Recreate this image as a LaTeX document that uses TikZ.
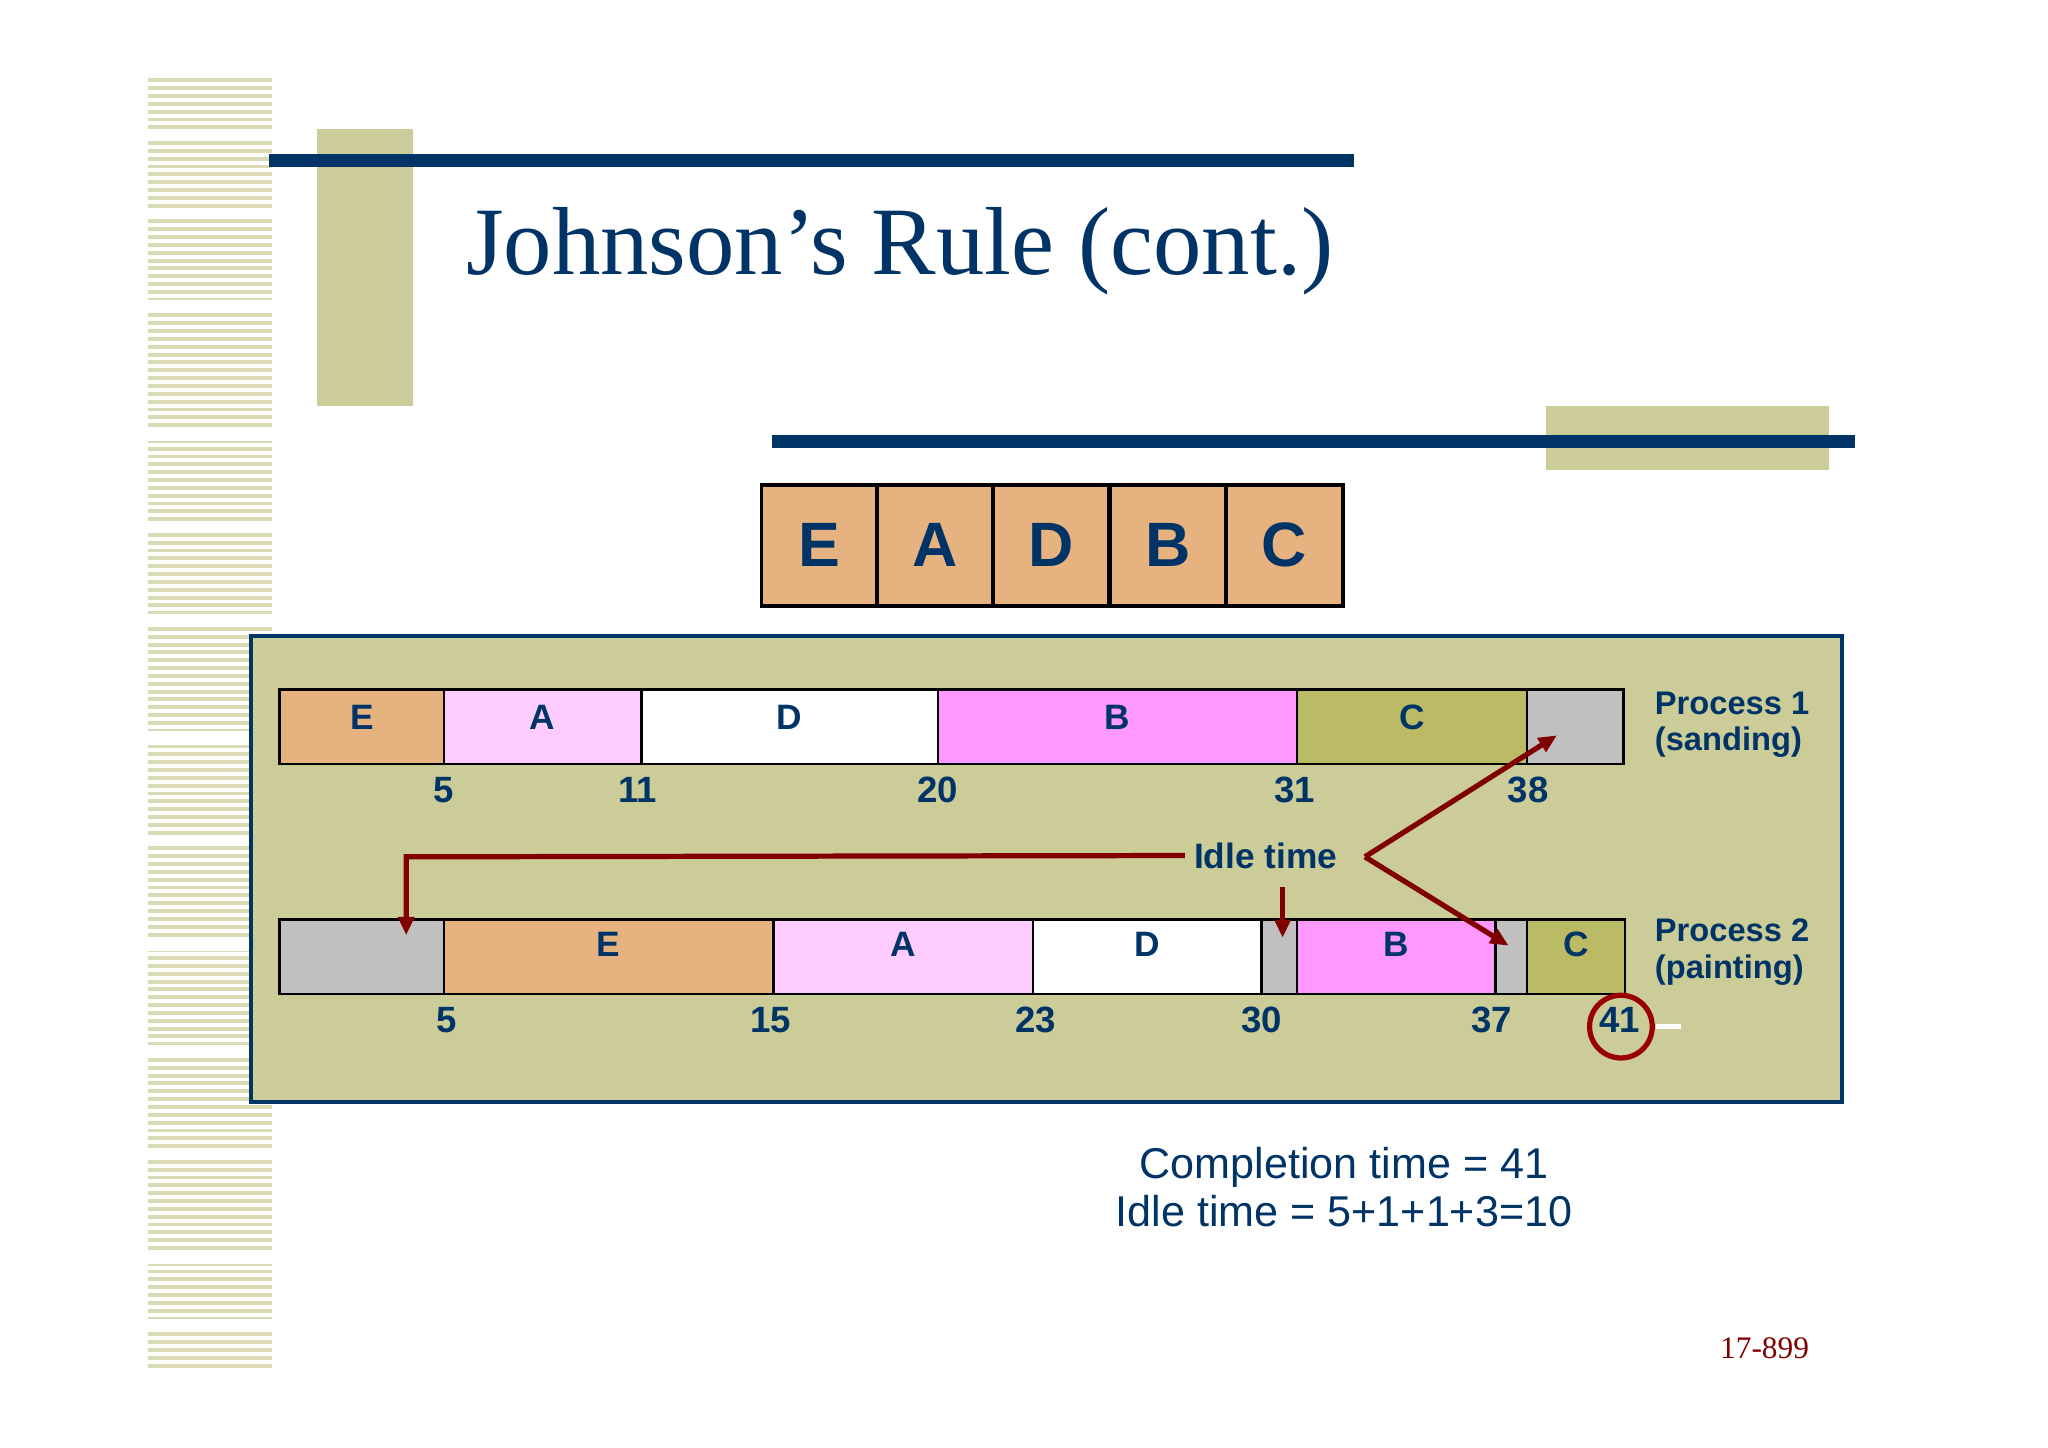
\documentclass[tikz,border=0pt]{standalone}
\usepackage{fontspec}
\setmainfont{Liberation Sans}
\newfontfamily\serifont{Liberation Serif}
\usetikzlibrary{arrows.meta}
\definecolor{navy}{HTML}{003366}
\definecolor{olive}{HTML}{CCCC99}
\definecolor{tan}{HTML}{E6B380}
\definecolor{pinkL}{HTML}{FFCCFF}
\definecolor{pinkD}{HTML}{FF99FF}
\definecolor{oliveD}{HTML}{BBBB66}
\definecolor{greyc}{HTML}{C0C0C0}
\definecolor{dred}{HTML}{800000}
\begin{document}
\begin{tikzpicture}[x=0.5pt,y=-0.5pt,
  seq/.style={draw=black,line width=1.5pt,fill=tan,minimum width=44.5pt,minimum height=46.5pt,inner sep=0,font=\fontsize{24}{24}\bfseries\selectfont,text=navy},
  lab/.style={font=\fontsize{13.5}{14}\bfseries\selectfont,text=navy},
  num/.style={font=\fontsize{14}{14}\bfseries\selectfont,text=navy},
  seg/.style={draw=black,line width=1pt},
  arr/.style={draw=dred,line width=2pt,-{Triangle[length=7pt,width=6pt]}}]
\useasboundingbox (0,0) rectangle (1568,1108);
\fill[white] (0,0) rectangle (1568,1108);
% left stripes
\foreach \y in {60,66,...,1045}{\fill[olive!70] (113,\y) rectangle (208,\y+3);}
\foreach \y in {100,160,230,330,400,470,560,640,720,800,880,960,1010}{\fill[white] (113,\y) rectangle (208,\y+8);}
% decorations
\fill[olive] (243,99) rectangle (316,311);
\fill[navy] (206,118) rectangle (1037,128);
\node[font=\serifont\fontsize{37}{37}\selectfont,text=navy,anchor=west] (title) at (350,192) {Johnson’s Rule (cont.)};
\fill[olive] (1184,311) rectangle (1400,360);
\fill[navy] (591,333) rectangle (1420,343);
% sequence
\foreach \l/\x [count=\i] in {E/627.5,A/716,D/804.5,B/894,C/983.5}{\node[seq] (s\i) at (\x,417.5) {\l};}
% panel
\draw[navy,line width=1.5pt,fill=olive] (192,487) rectangle (1410,844);
% process 1
\foreach \a/\b/\c/\l [count=\i] in {214/340/tan/E,340/491/pinkL/A,491/718/white/D,718/993/pinkD/B,993/1169/oliveD/C,1169/1243/greyc/{}}{
  \draw[seg,fill=\c] (\a,528) rectangle (\b,585);
  \node[lab] (p1\i) at ({(\a+\b)/2},549) {\l};}
\foreach \n/\x in {5/340,11/488,20/718,31/991,38/1170}{\node[num] (n1\n) at (\x,605) {\n};}
% process 2
\foreach \a/\b/\c/\l [count=\i] in {214/340/greyc/{},340/592/tan/E,592/791/pinkL/A,791/966/white/D,966/993/greyc/{},993/1145/pinkD/B,1145/1169/greyc/{},1169/1244/oliveD/C}{
  \draw[seg,fill=\c] (\a,704) rectangle (\b,761);
  \node[lab] (p2\i) at ({(\a+\b)/2},723) {\l};}
\foreach \n/\x in {5/342,15/590,23/793,30/966,37/1142,41/1240}{\node[num] (n2\n) at (\x,781) {\n};}
\draw[draw=dred!80!red,line width=2pt] (1241,786) circle (24);
\draw[white,line width=2pt] (1268,786) -- (1287,786);
\node[lab,align=left,anchor=west,font=\fontsize{12.5}{14}\bfseries\selectfont] (pr1) at (1260,555) {Process 1\\(sanding)};
\node[lab,align=left,anchor=west,font=\fontsize{12.5}{14}\bfseries\selectfont] (pr2) at (1260,729) {Process 2\\(painting)};
% idle arrows
\node[lab] (idle) at (969,655) {Idle time};
\coordinate (t1) at (311,716);
\coordinate (t2) at (982,718);
\coordinate (t3) at (1192,563);
\coordinate (t4) at (1155,724);
\coordinate (v) at (1045,656);
\draw[arr] (idle.west) -- (311,656) -- (t1);
\draw[arr] (982,679) -- (t2);
\draw[arr] (v) -- (t3);
\draw[arr] (v) -- (t4);
% text
\node[font=\fontsize{16.5}{18.5}\selectfont,text=navy,align=center] (ct) at (1029,909) {Completion time = 41\\Idle time = 5+1+1+3=10};
\node[font=\serifont\fontsize{12}{12}\selectfont,text=dred] (pg) at (1351,1032) {17-899};
\end{tikzpicture}
\end{document}
